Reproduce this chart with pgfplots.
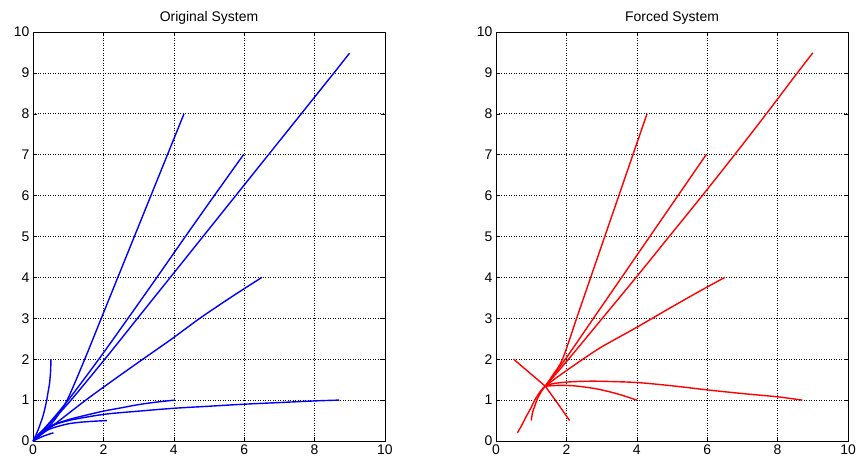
\documentclass[border=0pt]{standalone}
\usepackage{fontspec}
\setmainfont{Liberation Sans}
\usepackage{pgfplots}
\pgfplotsset{compat=1.18}
\begin{document}
\begin{tikzpicture}
\pgfplotsset{
 myax/.style={
  scale only axis, width=352bp, height=409bp,
  xmin=0,xmax=10,ymin=0,ymax=10,
  xtick={0,2,...,10}, ytick={0,1,...,10},
  grid=major,
  major grid style={black, line width=0.6bp, dash pattern=on 1bp off 1.5bp},
  tick align=inside, tick pos=both,
  major tick length=4bp,
  axis line style={black, line width=0.7bp},
  tick style={black, line width=0.5bp},
  ticklabel style={font=\fontsize{14}{16}\selectfont},
  /pgf/number format/assume math mode=true,
  title style={font=\fontsize{14}{16}\selectfont, at={(0.5,1)}, anchor=south, yshift=-2bp},
  every axis plot/.append style={line width=1.4bp, mark=none, smooth},
 }
}
\begin{axis}[myax, title={Original System}, at={(0bp,0bp)}, anchor=south west]
\addplot[blue] coordinates {(0.51,2.0) (0.5,1.7) (0.47,1.41) (0.43,1.2) (0.39,1.0) (0.34,0.8) (0.28,0.6) (0.2,0.4) (0.14,0.26) (0.07,0.12) (0,0)};
\addplot[blue] coordinates {(4.29,8) (3.82,7) (3.35,6) (2.88,5) (2.41,4) (1.94,3) (1.47,2) (0.97,1) (0.6,0.5) (0.27,0.2) (0,0)};
\addplot[blue] coordinates {(5.98,7) (5.15,6) (4.33,5) (3.52,4) (2.7,3) (1.87,2) (1.0,1) (0.52,0.5) (0,0)};
\addplot[blue] coordinates {(8.99,9.48) (8.55,9) (7.62,8) (6.69,7) (5.76,6) (4.83,5) (3.9,4) (2.97,3) (2.04,2) (1.08,1) (0.55,0.5) (0,0)};
\addplot[blue] coordinates {(6.5,4) (5.6,3.5) (4.74,3) (3.95,2.5) (3.12,2) (2.3,1.5) (1.5,1) (0.75,0.5) (0,0)};
\addplot[blue] coordinates {(4.03,1) (3.5,0.95) (3,0.89) (2.5,0.81) (2,0.73) (1.5,0.63) (1,0.52) (0.5,0.36) (0.2,0.18) (0,0)};
\addplot[blue] coordinates {(8.7,1) (8,0.98) (7,0.94) (6,0.9) (5,0.85) (4,0.8) (3,0.73) (2,0.65) (1,0.5) (0.5,0.37) (0.2,0.2) (0,0)};
\addplot[blue] coordinates {(2.1,0.5) (1.5,0.47) (1,0.42) (0.5,0.3) (0.2,0.16) (0,0)};
\addplot[blue] coordinates {(1,0.5) (0.7,0.43) (0.4,0.3) (0.15,0.14) (0,0)};
\addplot[blue] coordinates {(0.58,0.2) (0.3,0.12) (0,0)};
\end{axis}
\begin{axis}[myax, title={Forced System}, at={(463bp,0bp)}, anchor=south west]
\addplot[red] coordinates {(0.5,2.0) (0.95,1.67) (1.4,1.34)};
\addplot[red] coordinates {(2.09,0.5) (1.75,0.92) (1.4,1.34)};
\addplot[red] coordinates {(0.61,0.2) (0.74,0.4) (0.86,0.6) (1.0,0.82) (1.1,1.0) (1.29,1.25) (1.4,1.34)};
\addplot[red] coordinates {(1.0,0.5) (1.04,0.7) (1.1,0.85) (1.16,1.0) (1.28,1.2) (1.4,1.34)};
\addplot[red] coordinates {(1.4,1.34) (1.8,1.36) (2.2,1.35) (2.6,1.31) (3,1.25) (3.5,1.14) (4,1.0)};
\addplot[red] coordinates {(1.4,1.34) (1.6,1.4) (2,1.44) (2.5,1.46) (3,1.46) (4,1.43) (5,1.35) (6,1.25) (7,1.16) (8,1.08) (8.7,1.0)};
\addplot[red] coordinates {(1.4,1.34) (1.8,1.6) (2.47,2.0) (3,2.3) (4,2.78) (5,3.28) (5.8,3.67) (6.5,4)};
\addplot[red] coordinates {(1.4,1.34) (1.97,2) (2.77,3) (3.57,4) (4.37,5) (5.17,6) (5.97,7)};
\addplot[red] coordinates {(1.4,1.34) (2.06,2) (3.02,3) (3.98,4) (4.92,5) (5.86,6) (6.78,7) (7.68,8) (8.56,9) (9.0,9.49)};
\addplot[red] coordinates {(1.4,1.34) (1.62,1.62) (1.89,2) (2.29,3) (2.69,4) (3.09,5) (3.49,6) (3.89,7) (4.29,8)};
\end{axis}
\pgfresetboundingbox
\path (-33bp,-25bp) rectangle (823bp,441bp);
\end{tikzpicture}
\end{document}
